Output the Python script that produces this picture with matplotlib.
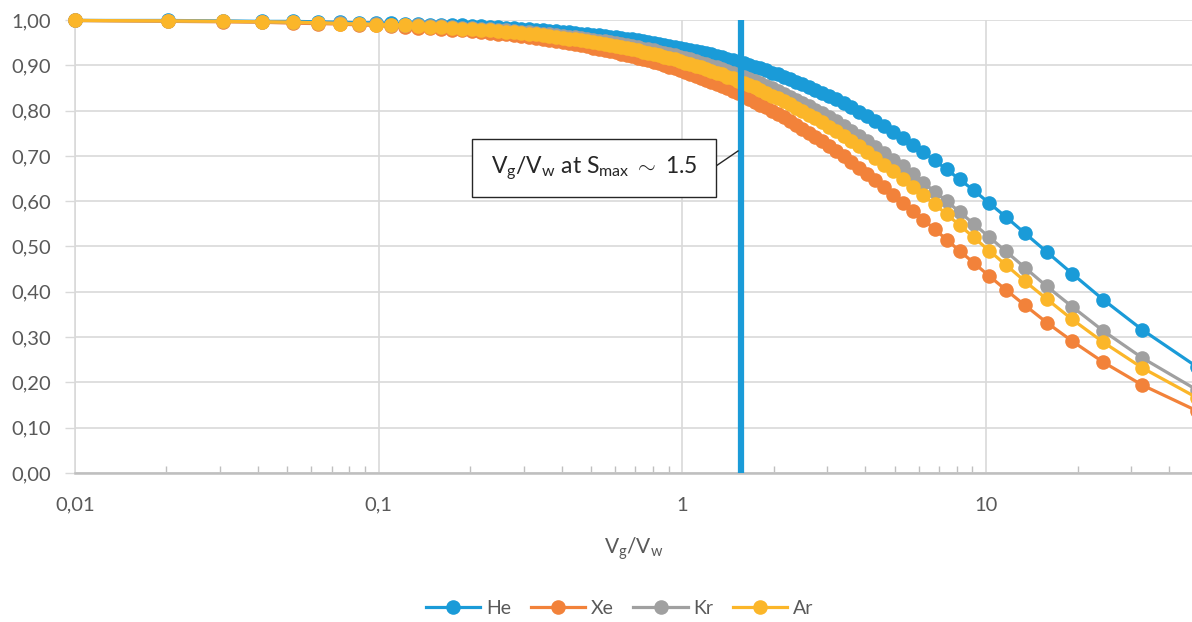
import matplotlib
matplotlib.use('Agg')
import matplotlib.pyplot as plt
from matplotlib.patches import Rectangle
from matplotlib.lines import Line2D
from matplotlib.ticker import FixedLocator, LogLocator, NullFormatter

plt.rcParams['font.family'] = ['Lato', 'DejaVu Sans']
plt.rcParams['mathtext.fontset'] = 'custom'
plt.rcParams['mathtext.rm'] = 'Lato'
plt.rcParams['mathtext.it'] = 'Lato:italic'

# Vg/Vw values (x)
vg_vw = [
    0.0100, 0.0202, 0.0306, 0.0412, 0.0521, 0.0632, 0.0745, 0.0860, 0.0978, 0.1099,
    0.1222, 0.1348, 0.1477, 0.1609, 0.1744, 0.1882, 0.2024, 0.2169, 0.2317, 0.2469,
    0.2625, 0.2785, 0.2949, 0.3117, 0.3289, 0.3467, 0.3649, 0.3836, 0.4028, 0.4225,
    0.4429, 0.4638, 0.4853, 0.5075, 0.5303, 0.5538, 0.5781, 0.6032, 0.6290, 0.6557,
    0.6833, 0.7119, 0.7414, 0.7719, 0.8036, 0.8364, 0.8704, 0.9057, 0.9423, 0.9804,
    1.0200, 1.0612, 1.1042, 1.1489, 1.1957, 1.2444, 1.2955, 1.3488, 1.4048, 1.4634,
    1.5250, 1.5897, 1.6579, 1.7297, 1.8056, 1.8857, 1.9706, 2.0606, 2.1563, 2.2581,
    2.3667, 2.4828, 2.6071, 2.7407, 2.8846, 3.0400, 3.2083, 3.3913, 3.5909, 3.8095,
    4.0500, 4.3158, 4.6111, 4.9412, 5.3125, 5.7333, 6.2143, 6.7692, 7.4167, 8.1818,
    9.100, 10.222, 11.625, 13.429, 15.833, 19.200, 24.250, 32.667, 49.500,
]

he = [
    0.999, 0.999, 0.998, 0.997, 0.997, 0.996, 0.995, 0.994, 0.994, 0.993,
    0.992, 0.991, 0.990, 0.989, 0.989, 0.988, 0.987, 0.986, 0.985, 0.984,
    0.983, 0.982, 0.981, 0.980, 0.979, 0.978, 0.976, 0.975, 0.974, 0.973,
    0.971, 0.970, 0.969, 0.967, 0.966, 0.965, 0.963, 0.962, 0.960, 0.958,
    0.957, 0.955, 0.953, 0.951, 0.949, 0.947, 0.945, 0.943, 0.941, 0.939,
    0.937, 0.934, 0.932, 0.929, 0.927, 0.924, 0.921, 0.918, 0.915, 0.912,
    0.908, 0.905, 0.901, 0.897, 0.893, 0.889, 0.884, 0.880, 0.875, 0.870,
    0.864, 0.859, 0.853, 0.846, 0.839, 0.832, 0.825, 0.816, 0.808, 0.798,
    0.788, 0.778, 0.766, 0.753, 0.740, 0.725, 0.708, 0.690, 0.670, 0.648,
    0.624, 0.596, 0.565, 0.529, 0.488, 0.440, 0.383, 0.316, 0.234,
]

xe = [
    0.999, 0.997, 0.996, 0.995, 0.993, 0.992, 0.991, 0.989, 0.988, 0.986,
    0.985, 0.983, 0.982, 0.980, 0.978, 0.977, 0.975, 0.973, 0.971, 0.970,
    0.968, 0.966, 0.964, 0.962, 0.960, 0.958, 0.956, 0.954, 0.951, 0.949,
    0.947, 0.944, 0.942, 0.939, 0.937, 0.934, 0.932, 0.929, 0.926, 0.923,
    0.920, 0.917, 0.914, 0.911, 0.907, 0.904, 0.900, 0.897, 0.893, 0.889,
    0.885, 0.881, 0.877, 0.873, 0.868, 0.864, 0.859, 0.854, 0.849, 0.843,
    0.838, 0.832, 0.826, 0.820, 0.813, 0.807, 0.800, 0.793, 0.785, 0.777,
    0.769, 0.760, 0.751, 0.742, 0.732, 0.721, 0.711, 0.699, 0.687, 0.674,
    0.660, 0.646, 0.631, 0.614, 0.597, 0.579, 0.559, 0.538, 0.515, 0.490,
    0.464, 0.435, 0.404, 0.370, 0.332, 0.291, 0.245, 0.194, 0.137,
]

kr = [
    0.999, 0.998, 0.997, 0.996, 0.995, 0.994, 0.993, 0.992, 0.991, 0.990,
    0.989, 0.988, 0.987, 0.986, 0.985, 0.983, 0.982, 0.981, 0.980, 0.978,
    0.977, 0.976, 0.974, 0.973, 0.971, 0.970, 0.968, 0.967, 0.965, 0.963,
    0.962, 0.960, 0.958, 0.956, 0.954, 0.953, 0.951, 0.949, 0.946, 0.944,
    0.942, 0.940, 0.937, 0.935, 0.933, 0.930, 0.927, 0.925, 0.922, 0.919,
    0.916, 0.913, 0.910, 0.906, 0.903, 0.899, 0.896, 0.892, 0.888, 0.884,
    0.879, 0.875, 0.870, 0.865, 0.860, 0.855, 0.849, 0.844, 0.837, 0.831,
    0.824, 0.817, 0.810, 0.802, 0.794, 0.785, 0.776, 0.766, 0.756, 0.745,
    0.733, 0.720, 0.707, 0.692, 0.677, 0.660, 0.641, 0.621, 0.600, 0.576,
    0.550, 0.521, 0.489, 0.453, 0.412, 0.367, 0.314, 0.254, 0.183,
]

ar = [
    0.999, 0.998, 0.997, 0.996, 0.995, 0.994, 0.992, 0.991, 0.990, 0.989,
    0.988, 0.987, 0.985, 0.984, 0.983, 0.981, 0.980, 0.978, 0.977, 0.976,
    0.974, 0.973, 0.971, 0.969, 0.968, 0.966, 0.964, 0.963, 0.961, 0.959,
    0.957, 0.955, 0.953, 0.951, 0.949, 0.947, 0.945, 0.942, 0.940, 0.938,
    0.935, 0.933, 0.930, 0.927, 0.925, 0.922, 0.919, 0.916, 0.913, 0.910,
    0.906, 0.903, 0.899, 0.896, 0.892, 0.888, 0.884, 0.880, 0.875, 0.871,
    0.866, 0.861, 0.856, 0.851, 0.845, 0.839, 0.833, 0.827, 0.821, 0.814,
    0.806, 0.799, 0.791, 0.783, 0.774, 0.764, 0.755, 0.744, 0.733, 0.721,
    0.709, 0.696, 0.681, 0.666, 0.650, 0.632, 0.613, 0.593, 0.571, 0.547,
    0.520, 0.491, 0.459, 0.423, 0.384, 0.339, 0.289, 0.232, 0.166,
]

series_names = ['He', 'Xe', 'Kr', 'Ar']
series_colors = ['#1a9bd8', '#f2823a', '#a0a0a0', '#fbb629']
smax_x = 1.56

y_ticks = [0.0, 0.1, 0.2, 0.3, 0.4, 0.5, 0.6, 0.7, 0.8, 0.9, 1.0]
x_ticks = [0.01, 0.1, 1, 10]
x_ticklabels = ['0,01', '0,1', '1', '10']

W, H = 1192, 622
fig = plt.figure(figsize=(W / 100, H / 100), dpi=100)
ax = fig.add_axes([75 / W, 1 - 473 / H, (W - 75) / W, (473 - 20) / H])

text_col = '#595959'
grid_col = '#d9d9d9'

for name, ys, col in zip(series_names, [he, xe, kr, ar], series_colors):
    ax.plot(vg_vw, ys, color=col, lw=2.3, marker='o', markersize=10.5,
            markeredgewidth=0, label=name, clip_on=False, zorder=3)

ax.axvline(smax_x, ymin=0, ymax=1, color='#1a9bd8', lw=4.5, zorder=5)

ax.set_xscale('log')
ax.set_xlim(0.01, 47.6)
ax.set_ylim(0, 1.0)

ax.xaxis.set_major_locator(FixedLocator(x_ticks))
ax.set_xticklabels(x_ticklabels)
ax.xaxis.set_minor_locator(LogLocator(base=10, subs=range(2, 10)))
ax.xaxis.set_minor_formatter(NullFormatter())
ax.set_yticks(y_ticks)
ax.set_yticklabels([f'{v:.2f}'.replace('.', ',') for v in y_ticks])

ax.tick_params(axis='y', which='major', direction='out', length=7, width=1,
               color=grid_col, labelsize=14.5, labelcolor=text_col, pad=10)
ax.tick_params(axis='x', which='major', length=0, labelsize=14.5,
               labelcolor=text_col, pad=17)
ax.tick_params(axis='x', which='minor', direction='in', length=5, width=1,
               color='#bfbfbf')

ax.grid(True, which='major', color=grid_col, lw=1.2, zorder=0)
ax.set_axisbelow(True)
for s in ['top', 'right']:
    ax.spines[s].set_visible(False)
ax.spines['left'].set_color(grid_col)
ax.spines['left'].set_linewidth(1.2)
ax.spines['bottom'].set_color('#bfbfbf')
ax.spines['bottom'].set_linewidth(1.8)

ax.set_xlabel(r'V$_\mathrm{g}$/V$_\mathrm{w}$', fontsize=15, color=text_col,
              labelpad=16)

# callout box for the Smax line
bx0, by0, bx1, by1 = 472, 139, 716, 197
fig.patches.append(Rectangle((bx0 / W, 1 - by1 / H), (bx1 - bx0) / W,
                             (by1 - by0) / H, transform=fig.transFigure,
                             facecolor='white', edgecolor='#262626', lw=1.0,
                             zorder=6))
fig.text((bx0 + bx1) / 2 / W, 1 - (by0 + by1) / 2 / H,
         r'V$_\mathrm{g}$/V$_\mathrm{w}$ at S$_\mathrm{max}$ $\sim$ 1.5',
         ha='center', va='center', fontsize=16.5, color='#262626', zorder=7)
fig.lines.append(Line2D([bx1 / W, 738 / W], [1 - 166 / H, 1 - 151 / H],
                        transform=fig.transFigure, color='#262626', lw=1.0,
                        zorder=6))

fig.legend(loc='lower center', bbox_to_anchor=(0.52, -0.02), ncol=4,
           frameon=False, fontsize=14, handlelength=2.8, columnspacing=1.0,
           handletextpad=0.3, labelcolor=text_col)

fig.savefig('out.png', dpi=100)
